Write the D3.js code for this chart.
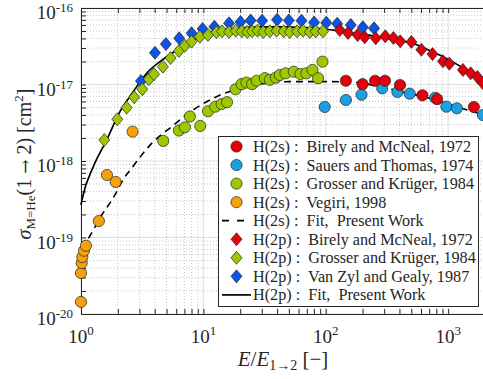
<!DOCTYPE html>
<html>
<head>
<meta charset="utf-8">
<script src="https://cdn.jsdelivr.net/npm/d3@7"></script>
<style>
  body { margin: 0; background: #fff; }
  svg { display: block; font-family: "Liberation Serif", "DejaVu Serif", serif; }
  text { white-space: pre; }
</style>
</head>
<body>
<svg width="483" height="379"></svg>
<script>
// values: [E/E12, sigma cm^2]
const birely2s = [[146,1.12e-17],[200,1.01e-17],[253,1.12e-17],[305,1.12e-17],[404,9.85e-18],[616,7.23e-18],[813,6.43e-18],[1622,5.08e-18]];
const sauers2s = [[98.1,5.08e-18],[146,6.27e-18],[196,7.36e-18],[289,8.92e-18],[385,7.98e-18],[485,7.58e-18],[783,6.70e-18],[967,5.13e-18],[1178,4.89e-18],[1924,3.99e-18]];
const grosser2s = [[4.70,1.83e-18],[6.31,2.50e-18],[7.06,2.76e-18],[7.76,3.82e-18],[9.42,2.87e-18],[10.9,4.47e-18],[12.5,5.13e-18],[14.1,5.56e-18],[15.6,5.87e-18],[18.3,8.66e-18],[20.5,1.01e-17],[22.5,1.06e-17],[25.0,1.01e-17],[27.2,1.12e-17],[31.8,1.21e-17],[34.9,1.15e-17],[39.1,1.23e-17],[42.1,1.33e-17],[46.9,1.40e-17],[54.8,1.47e-17],[62.1,1.37e-17],[69.5,1.40e-17],[77.9,1.55e-17],[86.5,1.21e-17],[94.0,1.99e-17]];
const vegiri2s = [[1.00,1.44e-20],[1.00,3.43e-20],[1.013,4.64e-20],[1.025,5.56e-20],[1.058,6.72e-20],[1.099,7.82e-20],[1.40,1.64e-19],[1.63,6.56e-19],[1.92,5.32e-19],[2.64,2.42e-18]];
const fit2s = [[1.0,4.93e-20],[1.044,6.52e-20],[1.26,1.25e-19],[1.43,1.80e-19],[1.895,3.60e-19],[2.20,5.65e-19],[2.59,8.03e-19],[3.78,1.70e-18],[5.50,2.81e-18],[8.26,4.65e-18],[12.8,6.93e-18],[19.9,8.92e-18],[32.8,1.04e-17],[50.8,1.09e-17],[108,1.09e-17],[178,1.06e-17],[313,8.92e-18],[456,7.81e-18],[747,6.41e-18],[1166,5.13e-18],[2000,3.94e-18]];
const birely2p = [[130,5.16e-17],[152,4.71e-17],[182,4.44e-17],[208,4.14e-17],[256,4.02e-17],[306,4.27e-17],[357,4.06e-17],[406,3.67e-17],[501,3.60e-17],[604,2.85e-17],[745,2.50e-17],[907,2.01e-17],[1023,1.87e-17],[1321,1.55e-17],[1527,1.40e-17],[1735,1.25e-17],[1924,1.04e-17]];
const grosser2p = [[1.55,1.88e-18],[1.98,3.51e-18],[2.36,4.98e-18],[2.72,6.81e-18],[3.17,8.66e-18],[3.59,1.17e-17],[3.95,1.36e-17],[4.67,1.71e-17],[5.39,2.22e-17],[6.31,2.74e-17],[7.06,3.21e-17],[8.01,3.63e-17],[9.36,4.21e-17],[10.9,4.44e-17],[12.8,4.81e-17],[14.2,4.95e-17],[16.2,4.85e-17],[18.4,5.05e-17],[20.6,4.95e-17],[22.8,4.85e-17],[25.0,4.95e-17],[27.7,5.05e-17],[30.8,4.85e-17],[34.9,4.95e-17],[39.6,5.05e-17],[45.4,4.95e-17],[50.8,4.85e-17],[58.3,4.95e-17],[65.3,5.05e-17],[74.0,4.85e-17],[82.8,4.95e-17],[95.0,4.95e-17]];
const vanzyl2p = [[3.09,1.11e-17],[4.02,2.60e-17],[4.94,3.38e-17],[6.34,4.02e-17],[8.01,4.67e-17],[9.85,5.32e-17],[12.3,5.69e-17],[16.2,6.31e-17],[20.1,6.56e-17],[24.3,6.87e-17],[30.2,6.82e-17],[40.0,7.01e-17],[49.9,6.87e-17],[63.3,6.82e-17],[80.2,6.46e-17],[101,6.43e-17],[124,6.22e-17],[160,6.0e-17],[201,5.6e-17],[248,5.43e-17]];
const fit2p = [[1.0,2.66e-19],[1.032,3.41e-19],[1.26,8.42e-19],[1.62,1.88e-18],[2.08,4.41e-18],[2.67,8.05e-18],[3.44,1.40e-17],[4.70,2.14e-17],[6.43,2.97e-17],[8.80,4.02e-17],[13.6,5.16e-17],[19.9,5.48e-17],[28.9,5.65e-17],[42.1,5.65e-17],[61.3,5.56e-17],[89.3,5.40e-17],[130,5.0e-17],[190,4.57e-17],[276,4.18e-17],[402,3.76e-17],[533,3.38e-17],[706,2.78e-17],[936,2.25e-17],[1241,1.75e-17],[1499,1.41e-17],[1741,1.18e-17],[2000,9.0e-18]];

const xTickExps = [0, 1, 2, 3];
const yTickExps = [-20, -19, -18, -17, -16];

const legendItems = [
  { kind: 'circle', color: '#e3000b', label: 'H(2s) :  Birely and McNeal, 1972' },
  { kind: 'circle', color: '#1ba1e2', label: 'H(2s) :  Sauers and Thomas, 1974' },
  { kind: 'circle', color: '#9dc800', label: 'H(2s) :  Grosser and Krüger, 1984' },
  { kind: 'circle', color: '#f5a10e', label: 'H(2s) :  Vegiri, 1998' },
  { kind: 'dash', color: '#000', label: 'H(2s) :  Fit,  Present Work' },
  { kind: 'diamond', color: '#e3000b', label: 'H(2p) :  Birely and McNeal, 1972' },
  { kind: 'diamond', color: '#9dc800', label: 'H(2p) :  Grosser and Krüger, 1984' },
  { kind: 'diamond', color: '#0a55e8', label: 'H(2p) :  Van Zyl and Gealy, 1987' },
  { kind: 'solid', color: '#000', label: 'H(2p) :  Fit,  Present Work' }
];

const svg = d3.select('svg');
const m = { left: 81, right: 485, top: 8, bottom: 314 };

const x = d3.scaleLog().domain([1, 2000]).range([m.left, m.right]);
const y = d3.scaleLog().domain([1e-20, 1e-16]).range([m.bottom, m.top]);

// grid
const xMinor = [], yMinor = [];
for (let e = 0; e <= 3; e++) for (let k = 2; k <= 9; k++) if (k * 10 ** e <= 2000) xMinor.push(k * 10 ** e);
for (let e = -20; e < -16; e++) for (let k = 2; k <= 9; k++) yMinor.push(k * 10 ** e);
const xMajor = xTickExps.map(e => 10 ** e);
const yMajor = yTickExps.map(e => 10 ** e);

const grid = svg.append('g').attr('id', 'grid');
grid.selectAll('.vminor').data(xMinor).enter().append('line')
  .attr('x1', d => x(d)).attr('x2', d => x(d)).attr('y1', m.top).attr('y2', m.bottom)
  .attr('stroke', '#c8c8c8').attr('stroke-dasharray', '1,2');
grid.selectAll('.hminor').data(yMinor).enter().append('line')
  .attr('y1', d => y(d)).attr('y2', d => y(d)).attr('x1', m.left).attr('x2', m.right)
  .attr('stroke', '#c8c8c8').attr('stroke-dasharray', '1,2');
grid.selectAll('.vmajor').data(xMajor).enter().append('line')
  .attr('x1', d => x(d)).attr('x2', d => x(d)).attr('y1', m.top).attr('y2', m.bottom)
  .attr('stroke', '#dedede');
grid.selectAll('.hmajor').data(yMajor).enter().append('line')
  .attr('y1', d => y(d)).attr('y2', d => y(d)).attr('x1', m.left).attr('x2', m.right)
  .attr('stroke', '#dedede');

// axes (ticks inside, box)
const tk = 5;
const axisColor = '#262626';
svg.append('g').attr('transform', `translate(0,${m.bottom})`)
  .call(d3.axisBottom(x).tickValues(xMajor.concat(xMinor)).tickSizeInner(-tk).tickSizeOuter(0).tickFormat(''));
svg.append('g').attr('transform', `translate(0,${m.top})`)
  .call(d3.axisTop(x).tickValues(xMajor.concat(xMinor)).tickSizeInner(-tk).tickSizeOuter(0).tickFormat(''));
svg.append('g').attr('transform', `translate(${m.left},0)`)
  .call(d3.axisLeft(y).tickValues(yMajor.concat(yMinor)).tickSizeInner(-tk).tickSizeOuter(0).tickFormat(''));
svg.selectAll('.domain, .tick line').attr('stroke', axisColor);
svg.selectAll('.domain').attr('stroke-width', 1);

// tick labels
svg.append('g').selectAll('text').data(xTickExps).enter().append('text')
  .attr('x', d => x(10 ** d)).attr('y', 343)
  .attr('text-anchor', 'middle').attr('fill', axisColor).attr('font-size', 19)
  .each(function(d) {
    const t = d3.select(this);
    t.append('tspan').text('10');
    t.append('tspan').attr('font-size', 13).attr('dy', -8).text(d);
  });
svg.append('g').selectAll('text').data(yTickExps).enter().append('text')
  .attr('x', 73).attr('y', d => y(10 ** d) + 11)
  .attr('text-anchor', 'end').attr('fill', axisColor).attr('font-size', 19)
  .each(function(d) {
    const t = d3.select(this);
    t.append('tspan').text('10');
    t.append('tspan').attr('font-size', 13).attr('dy', -7).text(d);
  });

// axis titles
const xt = svg.append('text').attr('x', 283).attr('y', 366)
  .attr('text-anchor', 'middle').attr('fill', axisColor).attr('font-size', 21);
xt.append('tspan').attr('font-style', 'italic').text('E');
xt.append('tspan').text('/');
xt.append('tspan').attr('font-style', 'italic').text('E');
xt.append('tspan').attr('font-size', 14).attr('dy', 4).text('1→2');
xt.append('tspan').attr('dy', -4).text(' [−]');

const yt = svg.append('text').attr('transform', 'translate(31,164) rotate(-90)')
  .attr('text-anchor', 'middle').attr('fill', axisColor).attr('font-size', 20);
yt.append('tspan').attr('font-style', 'italic').text('σ');
yt.append('tspan').attr('font-size', 13).attr('dy', 4).text('M=He');
yt.append('tspan').attr('dy', -4).text('(1 ');
yt.append('tspan').attr('font-family', '"DejaVu Serif", serif').attr('font-size', 17).text('→');
yt.append('tspan').text(' 2) [cm');
yt.append('tspan').attr('font-size', 13).attr('dy', -8).text('2');
yt.append('tspan').attr('dy', 8).text(']');

// plot content, clipped to axes box
svg.append('clipPath').attr('id', 'clip').append('rect')
  .attr('x', m.left - 8).attr('y', m.top - 8).attr('width', m.right - m.left + 16).attr('height', m.bottom - m.top + 16);
const plot = svg.append('g').attr('clip-path', 'url(#clip)');

const line = d3.line().x(d => x(d[0])).y(d => y(d[1])).curve(d3.curveMonotoneX);
plot.append('path').datum(fit2s).attr('d', line)
  .attr('fill', 'none').attr('stroke', '#000').attr('stroke-width', 1.6).attr('stroke-dasharray', '7,5');
plot.append('path').datum(fit2p).attr('d', line)
  .attr('fill', 'none').attr('stroke', '#000').attr('stroke-width', 1.7);

const diamond = 'M0,-6.5L5.5,0L0,6.5L-5.5,0Z';
function drawCircles(data, color) {
  plot.append('g').selectAll('circle').data(data).enter().append('circle')
    .attr('cx', d => x(d[0])).attr('cy', d => y(d[1])).attr('r', 5.6)
    .attr('fill', color).attr('stroke', '#222').attr('stroke-width', 0.7);
}
function drawDiamonds(data, color) {
  plot.append('g').selectAll('path').data(data).enter().append('path')
    .attr('d', diamond).attr('transform', d => `translate(${x(d[0])},${y(d[1])})`)
    .attr('fill', color).attr('stroke', '#222').attr('stroke-width', 0.7);
}
drawDiamonds(vanzyl2p, '#0a55e8');
drawDiamonds(grosser2p, '#9dc800');
drawDiamonds(birely2p, '#e3000b');
drawCircles(vegiri2s, '#f5a10e');
drawCircles(grosser2s, '#9dc800');
drawCircles(sauers2s, '#1ba1e2');
drawCircles(birely2s, '#e3000b');

// legend
const lg = svg.append('g').attr('id', 'legend');
lg.append('rect').attr('x', 218.5).attr('y', 136.5).attr('width', 260).attr('height', 170)
  .attr('fill', '#fff').attr('stroke', axisColor).attr('stroke-width', 1);
const rows = lg.selectAll('g.row').data(legendItems).enter().append('g')
  .attr('transform', (d, i) => `translate(0,${146.5 + i * 18.55})`);
rows.each(function(d) {
  const g = d3.select(this);
  if (d.kind === 'circle') {
    g.append('circle').attr('cx', 236.5).attr('cy', 0).attr('r', 5.6)
      .attr('fill', d.color).attr('stroke', '#222').attr('stroke-width', 0.7);
  } else if (d.kind === 'diamond') {
    g.append('path').attr('d', diamond).attr('transform', 'translate(236.5,0)')
      .attr('fill', d.color).attr('stroke', '#222').attr('stroke-width', 0.7);
  } else {
    g.append('line').attr('x1', 222).attr('x2', 251).attr('y1', 0).attr('y2', 0)
      .attr('stroke', d.color).attr('stroke-width', 1.7)
      .attr('stroke-dasharray', d.kind === 'dash' ? '7,8' : null);
  }
  g.append('text').attr('x', 253).attr('y', 5.5).attr('font-size', 16.2)
    .attr('fill', axisColor).text(d.label);
});
</script>
</body>
</html>
